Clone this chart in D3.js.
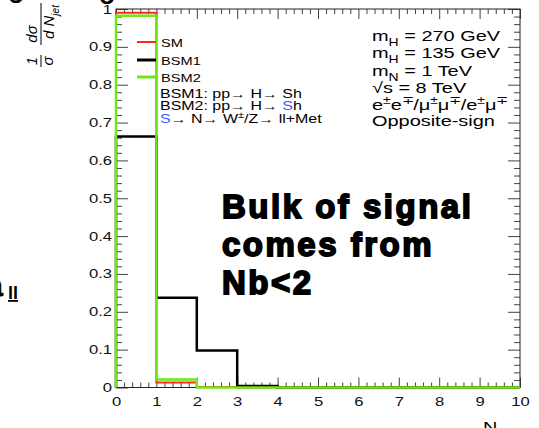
<!DOCTYPE html>
<html>
<head>
<meta charset="utf-8">
<script src="https://cdn.jsdelivr.net/npm/d3@7"></script>
<style>
  body { margin: 0; background: #fff; }
  svg { display: block; font-family: "Liberation Sans", Arial, sans-serif; }
</style>
</head>
<body>
<svg width="539" height="428"></svg>
<script>
// bin edges of N_bjet and normalised contents per bin
const binEdges = [0, 1, 2, 3, 4, 5, 6, 7, 8, 9, 10];
const smValues   = [0.990, 0.013, 0.001, 0, 0, 0, 0, 0, 0, 0];
const bsm1Values = [0.663, 0.237, 0.098, 0.004, 0, 0, 0, 0, 0, 0];
const bsm2Values = [0.982, 0.021, 0, 0, 0, 0, 0, 0, 0, 0];
const xTicks = [0, 1, 2, 3, 4, 5, 6, 7, 8, 9, 10];
const yTicks = [0, 0.1, 0.2, 0.3, 0.4, 0.5, 0.6, 0.7, 0.8, 0.9, 1];

const padL = 116, padR = 520, padT = 9, padB = 387.5;
const sx = 1.33; // the original canvas text is stretched horizontally

const svg = d3.select("svg");

const x = d3.scaleLinear().domain([0, 10]).range([padL, padR]);
const y = d3.scaleLinear().domain([0, 1]).range([padB, padT]);

const xMinor = d3.range(0, 10.001, 0.2).filter(v => Math.abs(v - Math.round(v)) > 1e-6);
const yMinor = d3.range(0, 1.001, 0.02).filter(v => Math.abs(v * 10 - Math.round(v * 10)) > 1e-6);

// ticks, ROOT style (inside the frame, mirrored on top/right)
function ticks(axis, tr, vals, size, labels) {
  const g = svg.append("g").attr("transform", tr)
    .call(axis.tickValues(vals).tickSize(size).tickFormat(labels || ""));
  g.select(".domain").remove();
  g.selectAll("line").attr("stroke", "#444");
  return g;
}

const yFmt = d => d === 0 ? "0" : d === 1 ? "1" : d3.format(".1f")(d);

ticks(d3.axisLeft(y), `translate(${padL},0)`, yMinor, -6);
const yAx = ticks(d3.axisLeft(y).tickPadding(3), `translate(${padL},0)`, yTicks, -12, yFmt);
ticks(d3.axisRight(y), `translate(${padR},0)`, yMinor, -6);
ticks(d3.axisRight(y), `translate(${padR},0)`, yTicks, -12);

ticks(d3.axisBottom(x), `translate(0,${padB})`, xMinor, -5);
const xAx = ticks(d3.axisBottom(x).tickPadding(10), `translate(0,${padB})`, xTicks, -10, d3.format("d"));
ticks(d3.axisTop(x), `translate(0,${padT})`, xMinor, -5);
ticks(d3.axisTop(x), `translate(0,${padT})`, xTicks, -10);

[yAx, xAx].forEach(g => g.selectAll("text").attr("font-size", 12.5).attr("fill", "#111")
  .attr("font-family", "Liberation Sans, Arial, sans-serif")
  .attr("transform", `scale(${sx},1)`));

// frame
svg.append("rect").attr("x", padL).attr("y", padT)
  .attr("width", padR - padL).attr("height", padB - padT)
  .attr("fill", "none").attr("stroke", "#222").attr("stroke-width", 1);

// histograms as step outlines
function histPath(vals) {
  const pts = [[binEdges[0], 0]];
  vals.forEach((v, i) => { pts.push([binEdges[i], v]); pts.push([binEdges[i + 1], v]); });
  pts.push([binEdges[binEdges.length - 1], 0]);
  return d3.line().x(d => x(d[0])).y(d => y(d[1]))(pts);
}

const series = [
  { name: "SM", vals: smValues, color: "#ff2a1a", w: 2 },
  { name: "BSM1", vals: bsm1Values, color: "#000", w: 2.5 },
  { name: "BSM2", vals: bsm2Values, color: "#6fe815", w: 2.5 }
];

series.forEach(s => {
  svg.append("path").attr("d", histPath(s.vals))
    .attr("fill", "none").attr("stroke", s.color).attr("stroke-width", s.w);
});

// rich text helper (sub/superscripts, colours), stretched like the original
function rich(x0, y0, size, parts, anchor) {
  const t = svg.append("text")
    .attr("transform", `translate(${x0},${y0}) scale(${sx},1)`)
    .attr("font-size", size).attr("fill", "#000")
    .attr("text-anchor", anchor || "start");
  let shift = 0;
  parts.forEach(p => {
    const off = p.s === "sub" ? size * 0.3 : p.s === "sup" ? -size * 0.4 : 0;
    t.append("tspan").attr("dy", off - shift)
      .attr("font-size", p.s ? size * 0.7 : size)
      .attr("fill", p.c || "#000").text(p.t);
    shift = off;
  });
  return t;
}

// legend
const legY = [42, 60, 77];
series.forEach((s, i) => {
  svg.append("line").attr("x1", 137).attr("x2", 156).attr("y1", legY[i]).attr("y2", legY[i])
    .attr("stroke", s.color).attr("stroke-width", i === 0 ? 2 : 3);
  rich(161, legY[i] + 5, 11, [{ t: s.name }]);
});
const blue = "#3a5cff";
rich(160, 98, 12, [{ t: "BSM1: pp\u2192 H\u2192 Sh" }]);
rich(160, 110, 12, [{ t: "BSM2: pp\u2192 H\u2192 " }, { t: "S", c: blue }, { t: "h" }]);
rich(160, 123, 12, [{ t: "S", c: blue }, { t: "\u2192 N\u2192 W" }, { t: "\u00b1", s: "sup" }, { t: "/Z\u2192 ll+Met" }]);

// physics info
rich(372, 41, 15, [{ t: "m" }, { t: "H", s: "sub" }, { t: " = 270 GeV" }]);
rich(372, 58, 15, [{ t: "m" }, { t: "H", s: "sub" }, { t: " = 135 GeV" }]);
rich(372, 76, 15, [{ t: "m" }, { t: "N", s: "sub" }, { t: " = 1 TeV" }]);
rich(372, 93, 15, [{ t: "\u221As = 8 TeV" }]);
rich(372, 110, 15, [{ t: "e" }, { t: "\u00b1", s: "sup" }, { t: "e" }, { t: "\u2213", s: "sup" },
  { t: "/\u03bc" }, { t: "\u00b1", s: "sup" }, { t: "\u03bc" }, { t: "\u2213", s: "sup" },
  { t: "/e" }, { t: "\u00b1", s: "sup" }, { t: "\u03bc" }, { t: "\u2213", s: "sup" }]);
rich(372, 126, 15, [{ t: "Opposite-sign" }]);

// annotation
["Bulk of signal", "comes from", "Nb<2"].forEach((line, i) => {
  svg.append("text").attr("x", 222).attr("y", 218 + i * 38)
    .attr("font-size", 33).attr("font-weight", 900).attr("letter-spacing", 2.5)
    .attr("stroke", "#000").attr("stroke-width", 1.8).attr("fill", "#000").text(line);
});

// axis titles
rich(520, 432, 15, [{ t: "N" }, { t: "bjet", s: "sub" }], "end");

const yt = svg.append("g").attr("transform", "translate(41,70) rotate(-90)")
  .attr("font-style", "italic");
yt.append("text").attr("x", 9).attr("y", -4).attr("text-anchor", "middle").attr("font-size", 14).text("1");
yt.append("text").attr("x", 9).attr("y", 12).attr("text-anchor", "middle").attr("font-size", 15).text("\u03c3");
yt.append("line").attr("x1", 3).attr("x2", 15).attr("y1", 0).attr("y2", 0).attr("stroke", "#000");
yt.append("text").attr("x", 36).attr("y", -4).attr("text-anchor", "middle").attr("font-size", 15).text("d\u03c3");
const dn = yt.append("text").attr("x", 31).attr("y", 13).attr("font-size", 15);
dn.append("tspan").text("d N");
dn.append("tspan").attr("dy", 5).attr("font-size", 10).text("jet");
yt.append("line").attr("x1", 25).attr("x2", 67).attr("y1", 0).attr("y2", 0).attr("stroke", "#000");

// cropped fragments of the surrounding slide
svg.append("text").attr("x", -14).attr("y", 296).attr("font-size", 30).attr("font-weight", 900)
  .attr("stroke", "#000").attr("stroke-width", 1).text("a");
svg.append("text").attr("x", 8).attr("y", 299).attr("font-size", 18).attr("font-weight", 900)
  .attr("text-decoration", "underline").text("ll");
svg.append("text").attr("x", 8).attr("y", 3).attr("font-size", 26).attr("font-weight", 900).text("o");
svg.append("text").attr("x", 99).attr("y", 4).attr("font-size", 26).attr("font-weight", 900).text("o");
</script>
</body>
</html>
